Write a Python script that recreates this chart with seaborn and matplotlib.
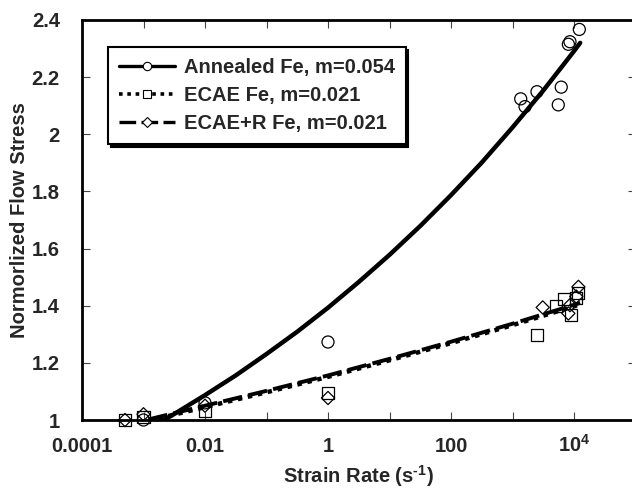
import matplotlib
matplotlib.use("Agg")
import matplotlib.pyplot as plt
from matplotlib.lines import Line2D
from matplotlib.ticker import FixedLocator, FixedFormatter, NullLocator, FormatStrFormatter
import seaborn as sns

# ---- data ----
ann_rate = [0.001, 0.01, 1, 1360, 1600, 2500, 5550, 6200, 8100, 8600, 12200]
ann_stress = [1.00, 1.06, 1.273, 2.124, 2.097, 2.149, 2.103, 2.165, 2.315, 2.324, 2.367]

ecae_rate = [0.0005, 0.001, 0.01, 1, 2460, 5150, 6900, 9100, 10900, 11800]
ecae_stress = [1.00, 1.01, 1.03, 1.095, 1.298, 1.399, 1.422, 1.367, 1.426, 1.443]

ecaer_rate = [0.0005, 0.001, 0.01, 1, 3100, 8100, 8600, 10900, 11800]
ecaer_stress = [1.00, 1.02, 1.05, 1.077, 1.394, 1.373, 1.402, 1.432, 1.466]

fit_ann_rate = [0.001, 0.00316, 0.01, 0.0316, 0.1, 0.316, 1, 3.16, 10, 31.6,
                100, 316, 1000, 3160, 10000, 12600]
fit_ann = [0.960, 1.021, 1.087, 1.156, 1.231, 1.309, 1.393, 1.483, 1.578, 1.679,
           1.787, 1.901, 2.024, 2.153, 2.291, 2.320]

fit_ecae_rate = [0.0012, 0.01, 0.1, 1, 10, 100, 1000, 10000, 12600]
fit_ecae = [0.997, 1.045, 1.097, 1.151, 1.209, 1.269, 1.332, 1.398, 1.405]
fit_ecaer = [1.002, 1.050, 1.102, 1.156, 1.214, 1.274, 1.337, 1.403, 1.410]

labels = ["Annealed Fe, m=0.054", "ECAE Fe, m=0.021", "ECAE+R Fe, m=0.021"]
xtick_vals = [1e-4, 1e-3, 1e-2, 1e-1, 1, 10, 100, 1e3, 1e4, 1e5]
xtick_labels = ["0.0001", "", "0.01", "", "1", "", "100", "", r"$\mathbf{10^4}$", ""]
ytick_vals = [1, 1.2, 1.4, 1.6, 1.8, 2, 2.2, 2.4]

# ---- style ----
sns.set_theme(style="ticks")
plt.rcParams["font.family"] = ["Liberation Sans", "DejaVu Sans"]
plt.rcParams["font.weight"] = "bold"
plt.rcParams["mathtext.fontset"] = "custom"
plt.rcParams["mathtext.rm"] = "Liberation Sans:bold"
plt.rcParams["mathtext.bf"] = "Liberation Sans:bold"
plt.rcParams["mathtext.default"] = "bf"

FS = 14.5

fig = plt.figure(figsize=(6.32, 4.90), dpi=100)
ax = fig.add_axes([82 / 632, 70 / 490, 553.5 / 632, 400 / 490])
ax.set_xscale("log")

dotted = (0, (1.0, 1.3))
dashed = (0, (5.0, 1.6))

sns.lineplot(x=fit_ann_rate, y=fit_ann, ax=ax, color="black", lw=3.2,
             sort=False, estimator=None, linestyle="-")
sns.lineplot(x=fit_ecae_rate, y=fit_ecae, ax=ax, color="black", lw=3.2,
             sort=False, estimator=None, linestyle=dotted)
sns.lineplot(x=fit_ecae_rate, y=fit_ecaer, ax=ax, color="black", lw=2.8,
             sort=False, estimator=None, linestyle=dashed)

sns.scatterplot(x=ann_rate, y=ann_stress, ax=ax, marker="o", s=75,
                facecolor="none", edgecolor="black", linewidth=0.9, clip_on=False, zorder=5)
sns.scatterplot(x=ecae_rate, y=ecae_stress, ax=ax, marker="s", s=75,
                facecolor="none", edgecolor="black", linewidth=0.9, clip_on=False, zorder=5)
sns.scatterplot(x=ecaer_rate, y=ecaer_stress, ax=ax, marker="D", s=45,
                facecolor="none", edgecolor="black", linewidth=0.9, clip_on=False, zorder=5)

ax.set_xlim(1e-4, 1e5)
ax.set_ylim(1, 2.4)

ax.xaxis.set_major_locator(FixedLocator(xtick_vals))
ax.xaxis.set_major_formatter(FixedFormatter(xtick_labels))
ax.xaxis.set_minor_locator(NullLocator())
ax.yaxis.set_major_locator(FixedLocator(ytick_vals))
ax.yaxis.set_major_formatter(FormatStrFormatter("%g"))

ax.tick_params(axis="both", which="major", direction="in", length=6, width=0.8,
               color="#444444", top=True, right=True, labelsize=FS)
ax.tick_params(axis="y", pad=16)
ax.tick_params(axis="x", pad=23)
for lab in ax.get_xticklabels():
    lab.set_verticalalignment("baseline")
    lab.set_fontweight("bold")
for lab in ax.get_yticklabels():
    lab.set_fontweight("bold")

for sp in ax.spines.values():
    sp.set_linewidth(2.0)
    sp.set_color("black")

ax.set_xlabel(r"Strain Rate (s$^{\text{-1}}$)", fontsize=FS, fontweight="bold", labelpad=5)
ax.set_ylabel("Normorlized Flow Stress", fontsize=FS, fontweight="bold", labelpad=2)

handles = [
    Line2D([], [], color="black", lw=2.4, linestyle="-", marker="o", markersize=6,
           markerfacecolor="white", markeredgecolor="black", markeredgewidth=0.8),
    Line2D([], [], color="black", lw=2.6, linestyle=dotted, marker="s", markersize=6,
           markerfacecolor="white", markeredgecolor="black", markeredgewidth=0.8),
    Line2D([], [], color="black", lw=2.4, linestyle=dashed, marker="D", markersize=5,
           markerfacecolor="white", markeredgecolor="black", markeredgewidth=0.8),
]
leg = ax.legend(handles, labels, loc="upper left", bbox_to_anchor=(108 / 632, 1 - 47 / 490),
                bbox_transform=fig.transFigure, frameon=True, fancybox=False,
                shadow={"color": "black", "alpha": 1.0}, handlelength=2.8,
                handletextpad=0.4, labelspacing=0.45, borderpad=0.55, borderaxespad=0,
                prop={"size": FS, "weight": "bold"})
leg.get_frame().set_edgecolor("black")
leg.get_frame().set_linewidth(1.5)
leg.get_frame().set_facecolor("white")

fig.savefig("out.png", dpi=100)
